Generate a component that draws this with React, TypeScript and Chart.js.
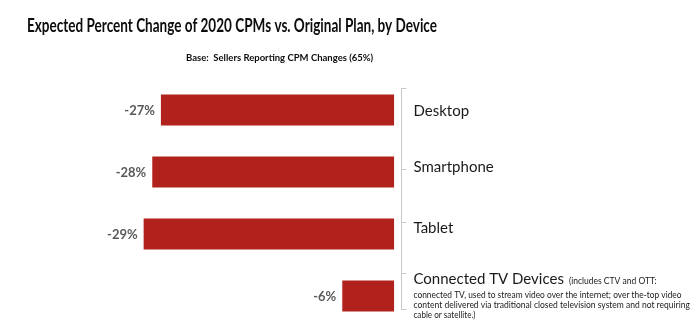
import React, { useEffect, useRef } from "react";
import { Chart, registerables } from "chart.js";

Chart.register(...registerables);

const titleText = "Expected Percent Change of 2020 CPMs vs. Original Plan, by Device";
const subtitleText = "Base:  Sellers Reporting CPM Changes (65%)";
const categories = ["Desktop", "Smartphone", "Tablet", "Connected TV Devices"];
const values = [-27, -28, -29, -6];
const valueLabels = ["-27%", "-28%", "-29%", "-6%"];
const ctvInline = "(includes CTV and OTT:";
const ctvNote = [
  "connected TV, used to stream video over the internet; over the-top video",
  "content delivered via traditional closed television system and not requiring",
  "cable or satellite.)",
];

// style constants (label baseline offsets relative to the bar centre)
const labelBaselineOffsets = [6, 0, -1, -12];
const tickOffsets = [-22, -3, -12, -23];
const FONT = "Lato, 'Open Sans', 'Liberation Sans', sans-serif";

const textPlugin = {
  id: "textPlugin",
  afterDraw(chart: any) {
    const ctx = chart.ctx;
    const x = chart.scales.x;
    const y = chart.scales.y;
    const area = chart.chartArea;
    ctx.save();

    // title + subtitle
    ctx.fillStyle = "#0d0d0d";
    ctx.textAlign = "left";
    ctx.textBaseline = "alphabetic";
    ctx.font = `bold 18px ${FONT}`;
    ctx.fillText(titleText, 27, 32, 410);
    ctx.font = `bold 9.5px ${FONT}`;
    ctx.fillText(subtitleText, 186, 61, 216);

    // axis line and ticks
    const axisX = Math.round(area.right) + 0.5;
    const top = y.getPixelForValue(0) + tickOffsets[0];
    const bottom = y.getPixelForValue(categories.length - 1) + 14;
    ctx.strokeStyle = "#c9c9c9";
    ctx.lineWidth = 1;
    ctx.beginPath();
    ctx.moveTo(axisX, top);
    ctx.lineTo(axisX, bottom);
    ctx.moveTo(axisX, top + 0.5);
    ctx.lineTo(axisX + 5, top + 0.5);
    ctx.moveTo(axisX, bottom - 0.5);
    ctx.lineTo(axisX + 5, bottom - 0.5);
    for (let i = 1; i < categories.length; i++) {
      const ty = Math.round(y.getPixelForValue(i) + tickOffsets[i]) + 0.5;
      ctx.moveTo(axisX, ty);
      ctx.lineTo(axisX + 5, ty);
    }
    ctx.stroke();

    // value labels
    ctx.fillStyle = "#595959";
    ctx.font = `bold 13px ${FONT}`;
    ctx.textAlign = "right";
    ctx.textBaseline = "middle";
    values.forEach((v, i) => {
      ctx.fillText(valueLabels[i], x.getPixelForValue(v) - 6, y.getPixelForValue(i) + 0.5);
    });

    // category labels
    ctx.fillStyle = "#1a1a1a";
    ctx.textAlign = "left";
    ctx.textBaseline = "alphabetic";
    const lx = axisX + 12;
    categories.forEach((c, i) => {
      const by = y.getPixelForValue(i) + labelBaselineOffsets[i];
      ctx.font = `15px ${FONT}`;
      ctx.fillText(c, lx, by);
      if (i === categories.length - 1) {
        const w = ctx.measureText(c).width;
        ctx.font = `8.5px ${FONT}`;
        ctx.fillText(ctvInline, lx + w + 5, by, 90);
        ctvNote.forEach((line, k) => {
          ctx.fillText(line, lx, by + 13.5 + k * 10, [268, 280, 62][k]);
        });
      }
    });
    ctx.restore();
  },
};

export default function App() {
  const ref = useRef<HTMLCanvasElement>(null);
  useEffect(() => {
    const chart = new Chart(ref.current as HTMLCanvasElement, {
      type: "bar",
      data: {
        labels: categories,
        datasets: [
          {
            data: values,
            backgroundColor: "#B1221C",
            borderWidth: 0,
            barPercentage: 0.5,
            categoryPercentage: 1,
          },
        ],
      },
      options: {
        indexAxis: "y",
        responsive: false,
        animation: false,
        layout: { padding: { left: 135, right: 299, top: 79, bottom: 7 } },
        scales: {
          x: { min: -30, max: 0.8, display: false },
          y: { position: "right", display: false },
        },
        plugins: { legend: { display: false }, tooltip: { enabled: false } },
      },
      plugins: [textPlugin],
    });
    return () => chart.destroy();
  }, []);
  return (
    <div style={{ position: "absolute", left: 0, top: 0, width: 700, height: 334, background: "#fff" }}>
      <canvas ref={ref} width={700} height={334} />
    </div>
  );
}
